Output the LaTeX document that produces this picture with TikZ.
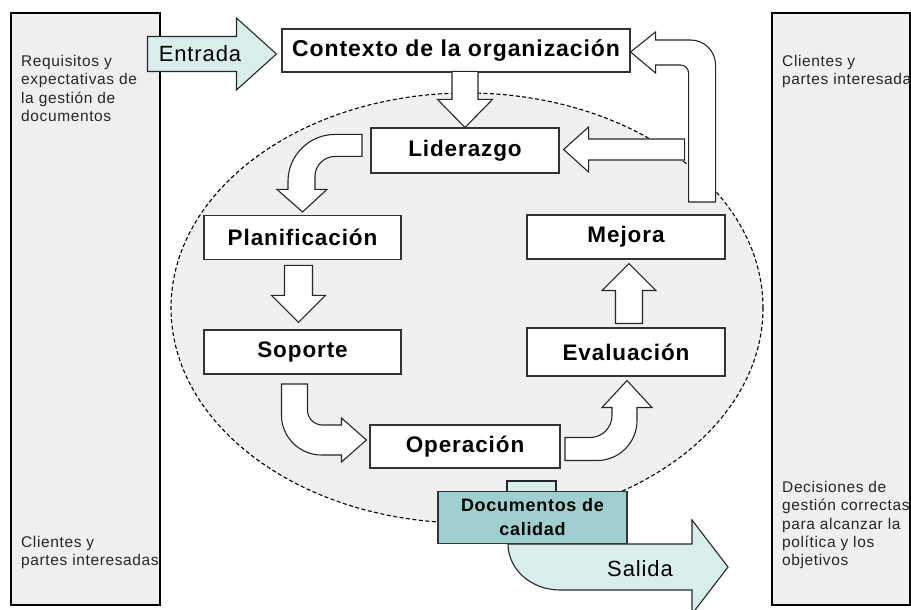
\documentclass[tikz,border=0pt]{standalone}
\usepackage{fontspec}
\setmainfont{Liberation Sans}[LetterSpace=4]
\usepackage{xcolor}
\usepackage{tikz}
\usetikzlibrary{calc}
\definecolor{panelgray}{RGB}{239,239,239}
\definecolor{loopgray}{RGB}{240,240,240}
\definecolor{iolight}{RGB}{217,237,237}
\definecolor{docteal}{RGB}{160,207,207}

\tikzset{
  stagebox/.style={draw=black!80, fill=white, line width=1.1pt, inner sep=0pt, minimum width=197, minimum height=44, font=\bfseries\fontsize{22.5}{26}\selectfont},
  blockarrow/.style={draw=black!85, fill=white, line width=1.1pt, line join=miter},
  sidepanel/.style={draw=black, fill=panelgray, line width=1.4pt},
  sidetext/.style={anchor=north west, align=left, inner sep=0pt, text=black!85, font=\fontsize{15.5}{18.3}\selectfont}
}

\begin{document}
\begin{tikzpicture}[x=1pt, y=1pt]
\useasboundingbox (0,0) rectangle (911,610);
\clip (0,0) rectangle (911,610);
% side panels
\draw[sidepanel] (11,5) rectangle (160,597);
\draw[sidepanel] (772,5) rectangle (910,597);
\node[sidetext] (reqtext) at (21,555) {Requisitos y\\expectativas de\\la gestión de\\documentos};
\node[sidetext] (clileft) at (21,74) {Clientes y\\partes interesadas};
\node[sidetext] (cliright) at (782,555) {Clientes y\\partes interesadas};
\node[sidetext] (dectext) at (782,129) {Decisiones de\\gestión correctas\\para alcanzar la\\política y los\\objetivos};

% dashed loop
\draw[dash pattern=on 4pt off 2.5pt, line width=1.1pt, fill=loopgray] (467,302) ellipse [x radius=296, y radius=215];

% stages
\node[stagebox, minimum width=348, minimum height=43, font=\bfseries\fontsize{23}{27}\selectfont] (ctx) at (456,559.5) {Contexto de la organización};
\node[stagebox, minimum width=188, minimum height=45] (lid) at (465,459.5) {Liderazgo};
\node[stagebox] (plan) at (302.5,372.5) {Planificación};
\node[stagebox] (sop) at (302.5,258) {Soporte};
\node[stagebox, minimum width=190, minimum height=43] (oper) at (465,163.5) {Operación};
\node[stagebox, minimum width=198, minimum height=48] (eval) at (626,258) {Evaluación};
\node[stagebox, minimum width=198] (mej) at (626,373) {Mejora};

% Entrada
\draw[blockarrow, fill=iolight] ($(ctx.west)+(-5,-3.5)$) -- ++(-40,36) -- ++(0,-18.5) -- ++(-89,0) -- ++(0,-35) -- ++(89,0) -- ++(0,-18.5) -- cycle;
\node[font=\fontsize{22}{26}\selectfont] (entrada) at (200,556) {Entrada};

% cycle arrows
\draw[blockarrow] (lid.north) -- ++(-27.5,28) -- ++(14.5,0) -- ++(0,28) -- ++(26,0) -- ++(0,-28) -- ++(14.5,0) -- cycle;
\draw[blockarrow] ($(plan.north)+(0,3)$) -- ++(24.5,22.5) -- ++(-12,0) -- ++(0,13) arc[start angle=180, end angle=90, radius=20] -- ++(27,0) -- ++(0,22) -- ++(-27,0) arc[start angle=90, end angle=180, radius=47] -- ++(0,-8) -- ++(-11,0) -- cycle;
\draw[blockarrow] ($(sop.north)+(-4,7)$) -- ++(-27,27) -- ++(13,0) -- ++(0,30) -- ++(28,0) -- ++(0,-30) -- ++(13,0) -- cycle;
\draw[blockarrow] ($(oper.west)+(-3,6.5)$) -- ++(-25,22) -- ++(0,-7) -- ++(-19,0) arc[start angle=270, end angle=180, radius=15] -- ++(0,26) -- ++(-26,0) -- ++(0,-31) arc[start angle=180, end angle=270, radius=40] -- ++(20,0) -- ++(0,-7) -- cycle;
\draw[blockarrow] ($(eval.south)+(1,-4)$) -- ++(25,-27) -- ++(-15,0) -- ++(0,-13) arc[start angle=0, end angle=-90, radius=40] -- ++(-32,0) -- ++(0,23) -- ++(25,0) arc[start angle=-90, end angle=0, radius=22] -- ++(0,8) -- ++(-10,0) -- cycle;
\draw[blockarrow] ($(mej.south)+(3,-4)$) -- ++(27,-27) -- ++(-13.5,0) -- ++(0,-33) -- ++(-27,0) -- ++(0,33) -- ++(-13.5,0) -- cycle;

% feedback to context and leadership
\draw[blockarrow] ($(ctx.east)+(0,-1.5)$) -- ++(25,20) -- ++(0,-8) -- ++(35,0) arc[start angle=90, end angle=0, radius=25] -- ++(0,-137) -- ++(-27,0) -- ++(0,129) arc[start angle=0, end angle=90, radius=8] -- ++(-25,0) -- ++(0,-8) -- cycle;
\draw[blockarrow] ($(lid.east)+(4,1)$) -- ++(25,22.5) -- ++(0,-12) -- ++(96,0) -- ++(0,-21) -- ++(-96,0) -- ++(0,-12) -- cycle;

% Salida and quality documents
\coordinate (docbase) at (532.5,66);
\draw[blockarrow, fill=iolight] ($(docbase)+(-24.5,0)$) arc[start angle=180, end angle=270, x radius=52, y radius=46] -- ++(132,0) -- ++(0,-24) -- ++(36,47) -- ++(-36,47) -- ++(0,-24) -- cycle;
\node[font=\fontsize{22}{26}\selectfont] (salida) at (640,41) {Salida};
\draw[blockarrow, fill=iolight] ($(docbase)+(-25.5,52)$) rectangle ++(49,11);
\node[stagebox, anchor=south, fill=docteal, minimum width=189, minimum height=52, align=center, font=\bfseries\fontsize{18}{24}\selectfont] (docs) at (docbase) {Documentos de\\calidad};
\end{tikzpicture}
\end{document}
